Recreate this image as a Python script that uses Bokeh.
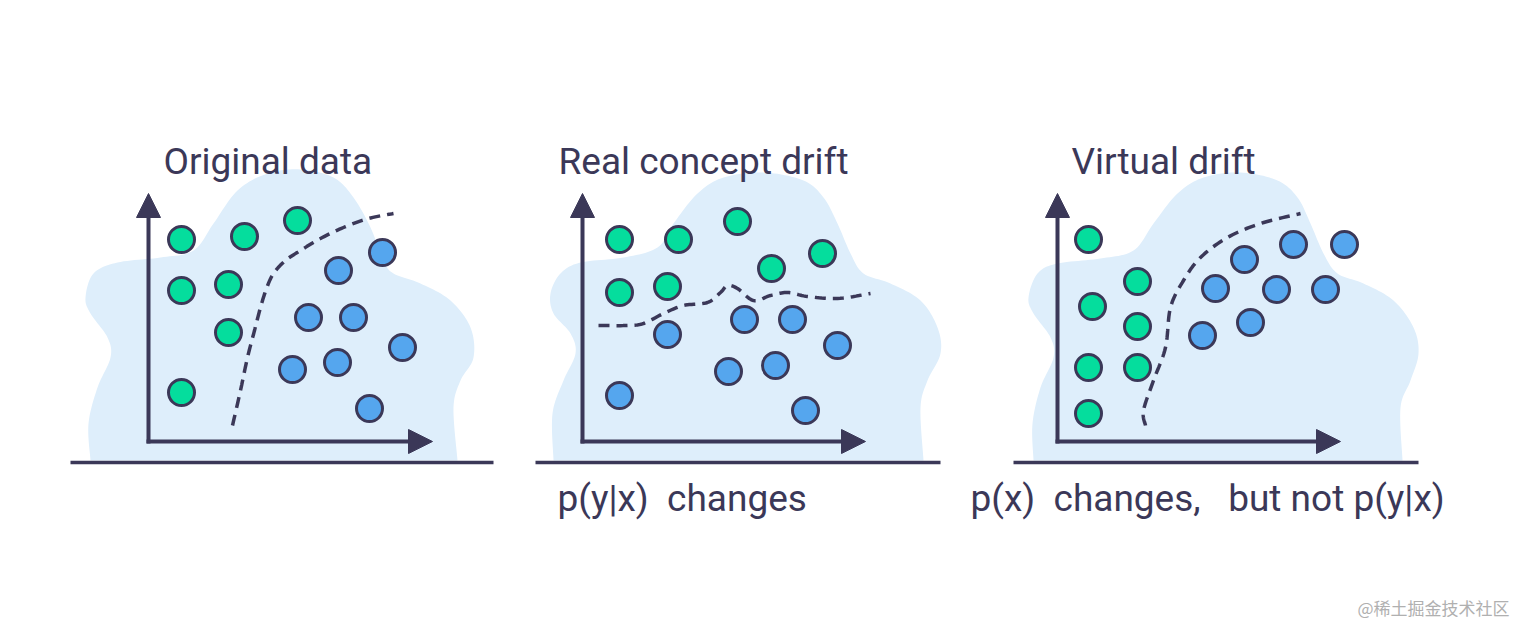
import numpy as np
from bokeh.plotting import figure
from bokeh.models import Range1d, Arrow, NormalHead
from bokeh.core.properties import value
from bokeh.embed import file_html
from bokeh.resources import INLINE

# ---------------- data (image pixel coordinates) ----------------
titles = ["Original data", "Real concept drift", "Virtual drift"]
title_x = [163, 558, 1071]
title_y = [161, 161, 161]

captions = ["p(y|x)\u00a0\u00a0changes", "p(x)\u00a0\u00a0changes,\u00a0\u00a0\u00a0but not p(y|x)"]
caption_x = [557, 970]
caption_y = [498, 498]

# background blobs (control points)
blob1_x = [90, 88, 97, 110, 107, 90, 85, 93, 117, 160, 193, 213, 237, 267, 300, 333, 353, 370, 383, 393, 420, 450, 470, 473, 460, 453, 457]
blob1_y = [460, 423, 387, 357, 337, 313, 297, 273, 262, 257, 250, 223, 190, 173, 169, 177, 197, 227, 260, 273, 283, 300, 327, 357, 380, 407, 460]
blob2_x = [553, 552, 563, 575, 570, 553, 550, 560, 580, 623, 657, 673, 697, 723, 763, 803, 823, 837, 850, 863, 890, 920, 937, 940, 927, 920, 923]
blob2_y = [460, 413, 380, 353, 333, 313, 293, 273, 262, 257, 247, 223, 193, 177, 172, 180, 197, 223, 253, 273, 283, 300, 327, 353, 380, 407, 460]
blob3_x = [1033, 1032, 1040, 1053, 1050, 1033, 1028, 1037, 1057, 1100, 1133, 1153, 1177, 1203, 1240, 1277, 1297, 1310, 1323, 1337, 1363, 1393, 1413, 1418, 1410, 1400, 1402]
blob3_y = [460, 423, 387, 357, 337, 313, 297, 273, 263, 258, 250, 223, 193, 177, 172, 180, 197, 223, 253, 273, 283, 300, 327, 353, 380, 407, 460]

# points
green1_x = [181, 244, 297, 181, 228, 228, 181]
green1_y = [239, 236, 220, 290, 284, 332, 392]
blue1_x = [382, 338, 308, 353, 402, 292, 337, 369]
blue1_y = [252, 270, 317, 317, 347, 369, 362, 408]

green2_x = [619, 678, 737, 619, 667, 771, 822]
green2_y = [239, 239, 221, 292, 286, 268, 253]
blue2_x = [667, 744, 792, 837, 728, 775, 619, 805]
blue2_y = [334, 319, 319, 345, 371, 365, 395, 410]

green3_x = [1088, 1137, 1092, 1137, 1088, 1137, 1088]
green3_y = [239, 281, 306, 326, 367, 367, 413]
blue3_x = [1344, 1293, 1244, 1215, 1276, 1325, 1250, 1202]
blue3_y = [244, 244, 259, 288, 289, 289, 322, 335]

# decision boundaries
bound1_x = [232, 240, 247, 254, 260, 266, 273, 285, 300, 320, 343, 368, 393]
bound1_y = [425, 390, 357, 330, 307, 288, 273, 260, 250, 238, 227, 218, 213]
bound2_x = [598, 627, 643, 663, 683, 707, 720, 727, 737, 753, 770, 787, 807, 837, 870]
bound2_y = [325, 325, 323, 313, 305, 302, 292, 285, 288, 300, 295, 292, 296, 298, 293]
bound3_x = [1145, 1143, 1153, 1165, 1170, 1183, 1200, 1227, 1260, 1300]
bound3_y = [425, 410, 380, 347, 307, 280, 257, 237, 223, 213]

# axes
yaxis_x = [148, 582, 1057]
xaxis_tip = [432, 865, 1340]
axis_y0 = 441
yaxis_tip = 193
ground_x0 = [70, 535, 1013]
ground_x1 = [493, 940, 1418]
ground_y = 462

watermark = "@稀土掘金技术社区"

# ---------------- styles ----------------
DARK = "#3B3858"
GREEN = "#05DD9D"
BLUE = "#55A6EE"
BLOB = "#DEEEFB"
FONT = "Roboto"


def catmull(xs, ys, n=12):
    P = np.column_stack([xs, ys]).astype(float)
    P = np.vstack([P[0], P, P[-1]])
    out = []
    for i in range(1, len(P) - 2):
        p0, p1, p2, p3 = P[i - 1], P[i], P[i + 1], P[i + 2]
        for t in np.linspace(0, 1, n, endpoint=False):
            t2, t3 = t * t, t * t * t
            pt = 0.5 * ((2 * p1) + (-p0 + p2) * t + (2 * p0 - 5 * p1 + 4 * p2 - p3) * t2 + (-p0 + 3 * p1 - 3 * p2 + p3) * t3)
            out.append(pt)
    out.append(P[-2])
    out = np.array(out)
    return out[:, 0], out[:, 1]


p = figure(width=1520, height=619, x_range=Range1d(0, 1520), y_range=Range1d(619, 0),
           output_backend="svg", toolbar_location=None, min_border=0,
           x_axis_location=None, y_axis_location=None)
p.grid.visible = False
p.outline_line_color = None
p.background_fill_color = "white"
p.border_fill_color = "white"

for bx, by in [(blob1_x, blob1_y), (blob2_x, blob2_y), (blob3_x, blob3_y)]:
    sx, sy = catmull(bx, by)
    p.patch(sx, sy, fill_color=BLOB, line_color=None)

# ground lines
p.segment(x0=ground_x0, y0=[ground_y] * 3, x1=ground_x1, y1=[ground_y] * 3, line_color=DARK, line_width=3.5)

# axes with arrows
for ax, tip in zip(yaxis_x, xaxis_tip):
    p.add_layout(Arrow(x_start=ax, y_start=axis_y0 + 2, x_end=ax, y_end=yaxis_tip,
                       line_color=DARK, line_width=4,
                       end=NormalHead(size=24, fill_color=DARK, line_color=DARK, line_width=1)))
    p.add_layout(Arrow(x_start=ax - 2, y_start=axis_y0, x_end=tip, y_end=axis_y0,
                       line_color=DARK, line_width=4,
                       end=NormalHead(size=24, fill_color=DARK, line_color=DARK, line_width=1)))

# boundaries
for bx, by in [(bound1_x, bound1_y), (bound2_x, bound2_y), (bound3_x, bound3_y)]:
    sx, sy = catmull(bx, by)
    p.line(sx, sy, line_color=DARK, line_width=3.5, line_dash="11 7")

# points
for gx, gy, bx, by in [(green1_x, green1_y, blue1_x, blue1_y),
                       (green2_x, green2_y, blue2_x, blue2_y),
                       (green3_x, green3_y, blue3_x, blue3_y)]:
    p.scatter(gx, gy, size=26, fill_color=GREEN, line_color=DARK, line_width=3)
    p.scatter(bx, by, size=26, fill_color=BLUE, line_color=DARK, line_width=3)

# texts
p.text(x=title_x, y=title_y, text=titles, text_font=value(FONT), text_font_size="37px",
       text_color=DARK, text_baseline="alphabetic", text_align="left")
p.text(x=caption_x, y=caption_y, text=captions, text_font=value(FONT), text_font_size="37px",
       text_color=DARK, text_baseline="alphabetic", text_align="left")
p.text(x=[1357], y=[607], text=[watermark], text_font=value("Noto Sans CJK SC"), text_font_size="17px",
       text_color="#B0B0B0", text_baseline="middle", text_align="left")

open("out.html", "w").write(file_html(p, INLINE))
